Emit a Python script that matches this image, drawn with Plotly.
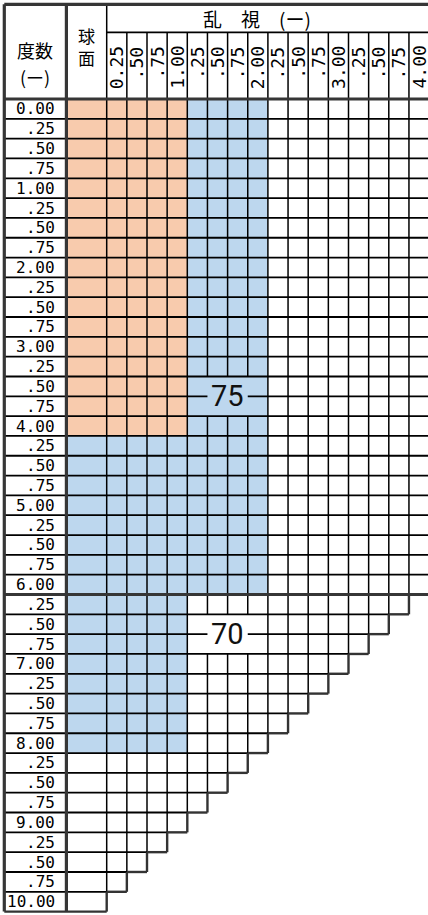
import plotly.graph_objects as go

# ---------------- data ----------------
sphere_values = [0.00, 0.25, 0.50, 0.75, 1.00, 1.25, 1.50, 1.75, 2.00, 2.25, 2.50,
                 2.75, 3.00, 3.25, 3.50, 3.75, 4.00, 4.25, 4.50, 4.75, 5.00, 5.25,
                 5.50, 5.75, 6.00, 6.25, 6.50, 6.75, 7.00, 7.25, 7.50, 7.75, 8.00,
                 8.25, 8.50, 8.75, 9.00, 9.25, 9.50, 9.75, 10.00]
sphere_labels = ["0.00", ".25", ".50", ".75", "1.00", ".25", ".50", ".75", "2.00",
                 ".25", ".50", ".75", "3.00", ".25", ".50", ".75", "4.00", ".25",
                 ".50", ".75", "5.00", ".25", ".50", ".75", "6.00", ".25", ".50",
                 ".75", "7.00", ".25", ".50", ".75", "8.00", ".25", ".50", ".75",
                 "9.00", ".25", ".50", ".75", "10.00"]
cyl_values = [0.25, 0.50, 0.75, 1.00, 1.25, 1.50, 1.75, 2.00,
              2.25, 2.50, 2.75, 3.00, 3.25, 3.50, 3.75, 4.00]
cyl_labels = ["0.25", ".50", ".75", "1.00", ".25", ".50", ".75", "2.00",
              ".25", ".50", ".75", "3.00", ".25", ".50", ".75", "4.00"]

# zones: (max sphere, max cylinder); the 球面 column counts as cylinder 0
orange_zones = [(4.00, 1.00)]
blue_zones = [(6.00, 2.00), (8.00, 1.00)]
max_total_power = 10.00
divider_sphere = 6.00

zone_labels = ["75", "70"]
zone_label_spheres = [(3.50, 3.75), (6.50, 6.75)]
zone_label_cyls = [(1.50, 1.75), (1.50, 1.75)]

header_title = "度数"
header_unit = "(ー)"
sphere_title = "球<br>面"
cyl_title = "乱　視　(ー)"

# ---------------- layout geometry (pixels) ----------------
W, H = 428, 915
CYL_X0_PX = 106.7
COL_W_PX = 20.15
ROW_Y0_PX = 99.0
ROW_H_PX = 19.82
LEFT_PX = 4.3
TOP_PX = 4.3
SUB_PX = 32.3

ORANGE = "#F8CBAD"
BLUE = "#BDD7EE"


def px2x(p):
    return (p - CYL_X0_PX) / COL_W_PX


def px2y(p):
    return (p - ROW_Y0_PX) / ROW_H_PX


n_rows = len(sphere_values)
n_cyl = len(cyl_values)
# column edges: label col, sphere col, cylinder cols
col_edges = [px2x(LEFT_PX), -2.0, 0.0] + [float(k) for k in range(1, n_cyl + 1)]
n_cols = len(col_edges) - 1  # 18


def col_cyl(j):
    return 0.0 if j <= 1 else cyl_values[j - 2]


def exists(i, j):
    if i < 0 or i >= n_rows or j < 0 or j >= n_cols:
        return False
    if j <= 1:
        return True
    return sphere_values[i] + cyl_values[j - 2] <= max_total_power + 1e-9


def zone(i, j):
    s, c = sphere_values[i], col_cyl(j)
    for ms, mc in orange_zones:
        if s <= ms + 1e-9 and c <= mc + 1e-9:
            return 1
    for ms, mc in blue_zones:
        if s <= ms + 1e-9 and c <= mc + 1e-9:
            return 2
    return None


# merged boxes (row range, col range) in index space
merged = []
for (s0, s1), (c0, c1) in zip(zone_label_spheres, zone_label_cyls):
    merged.append((sphere_values.index(s0), sphere_values.index(s1),
                   cyl_values.index(c0) + 2, cyl_values.index(c1) + 2))

divider_idx = sphere_values.index(divider_sphere) + 1

# ---------------- heatmap of coloured cells ----------------
z = []
for i in range(n_rows):
    row = []
    for j in range(1, n_cols):
        v = zone(i, j) if exists(i, j) else None
        row.append(v)
    z.append(row)

fig = go.Figure()
fig.add_trace(go.Heatmap(
    z=z, x=col_edges[1:], y=list(range(n_rows + 1)),
    zmin=1, zmax=2,
    colorscale=[[0, ORANGE], [0.5, ORANGE], [0.5, BLUE], [1, BLUE]],
    showscale=False, hoverinfo="skip",
))

# ---------------- grid segments ----------------
segs = {"thin_h": {}, "thin_v": {}, "edge_h": {}, "edge_v": {}, "thick_h": {}, "thick_v": {}}


def add(style, key, a, b):
    segs[style].setdefault(key, []).append((a, b))


for b in range(n_rows + 1):
    y = float(b)
    for j in range(n_cols):
        up, dn = exists(b - 1, j), exists(b, j)
        if not (up or dn):
            continue
        skip = any(r0 < b <= r1 and j0 <= j <= j1 for r0, r1, j0, j1 in merged)
        if skip:
            continue
        if b == 0 or b == divider_idx:
            st = "thick_h"
        elif up != dn:
            st = "edge_h"
        else:
            st = "thin_h"
        add(st, y, col_edges[j], col_edges[j + 1])

# the table's far right border lies just beyond the visible page: not drawn
for e in range(n_cols):
    x = col_edges[e]
    for i in range(n_rows):
        lf, rt = exists(i, e - 1), exists(i, e)
        if not (lf or rt):
            continue
        skip = any(r0 <= i <= r1 and j0 <= e <= j1 + 1 for r0, r1, j0, j1 in merged)
        if skip:
            continue
        if e <= 1:
            st = "thick_v"
        elif lf != rt:
            st = "edge_v"
        else:
            st = "thin_v"
        add(st, x, float(i), float(i + 1))

# header lines
y_top, y_sub = px2y(TOP_PX), px2y(SUB_PX)
add("thick_h", y_top, col_edges[0], col_edges[-1])
add("thin_h", y_sub, col_edges[2], col_edges[-1])
add("thick_v", col_edges[0], y_top, 0.0)
add("thick_v", col_edges[1], y_top, 0.0)
add("thin_v", col_edges[2], y_top, 0.0)
for e in range(3, n_cols):
    add("thin_v", col_edges[e], y_sub, 0.0)


def merge(lst):
    lst = sorted(lst)
    out = []
    for a, b in lst:
        if out and abs(out[-1][1] - a) < 1e-9:
            out[-1] = (out[-1][0], b)
        else:
            out.append((a, b))
    return out


styles = {
    "thin_h": dict(color="#000000", width=1.8),
    "thin_v": dict(color="#000000", width=1.5),
    "edge_h": dict(color="#333333", width=2.4),
    "edge_v": dict(color="#333333", width=2.4),
    "thick_h": dict(color="#363636", width=3.2),
    "thick_v": dict(color="#363636", width=3.2),
}
for st in ["thin_h", "thin_v", "edge_h", "edge_v", "thick_h", "thick_v"]:
    xs, ys = [], []
    for key, lst in segs[st].items():
        for a, b in merge(lst):
            if st.endswith("_h"):
                xs += [a, b, None]
                ys += [key, key, None]
            else:
                xs += [key, key, None]
                ys += [a, b, None]
    fig.add_trace(go.Scatter(x=xs, y=ys, mode="lines", line=styles[st],
                             hoverinfo="skip", showlegend=False))

# ---------------- text ----------------
ann = []
CJK = "Noto Sans CJK JP"
MONO = "DejaVu Sans Mono"
label_col_center = (col_edges[0] + col_edges[1]) / 2
ann.append(dict(x=label_col_center, y=px2y(50), text=header_title,
                font=dict(family=CJK, size=18, color="#000")))
ann.append(dict(x=label_col_center, y=px2y(77), text=header_unit,
                font=dict(family=CJK, size=18, color="#000")))
ann.append(dict(x=(col_edges[1] + col_edges[2]) / 2, y=px2y(46.5), text=sphere_title,
                font=dict(family=CJK, size=17, color="#000")))
ann.append(dict(x=px2x(257), y=px2y(18), text=cyl_title,
                font=dict(family=CJK, size=19, color="#000")))

for k, lab in enumerate(cyl_labels):
    ann.append(dict(x=k + 0.5, y=px2y(44), text=lab, textangle=-90,
                    xanchor="center", yanchor="top",
                    font=dict(family=MONO, size=18, color="#000")))

for i, lab in enumerate(sphere_labels):
    ann.append(dict(x=px2x(57), y=i + 0.5, text=lab, xanchor="right", yanchor="middle",
                    font=dict(family=MONO, size=16, color="#000")))

for (r0, r1, j0, j1), lab in zip(merged, zone_labels):
    ann.append(dict(x=(col_edges[j0] + col_edges[j1 + 1]) / 2, y=(r0 + r1 + 1) / 2,
                    text=lab, xanchor="center", yanchor="middle",
                    font=dict(family="Liberation Sans Narrow, Roboto", size=29, color="#111")))

for a in ann:
    a.update(xref="x", yref="y", showarrow=False)
    a.setdefault("xanchor", "center")
    a.setdefault("yanchor", "middle")

fig.update_layout(
    width=W, height=H, margin=dict(l=0, r=0, t=0, b=0),
    paper_bgcolor="white", plot_bgcolor="white",
    xaxis=dict(range=[px2x(0), px2x(W)], visible=False, fixedrange=True),
    yaxis=dict(range=[px2y(H), px2y(0)], visible=False, fixedrange=True),
    annotations=ann, showlegend=False, hovermode=False,
)
fig.write_html(
    "out.html",
    config={"displayModeBar": False},
    post_script="document.body.style.margin='0px';document.body.style.overflow='hidden';",
)
